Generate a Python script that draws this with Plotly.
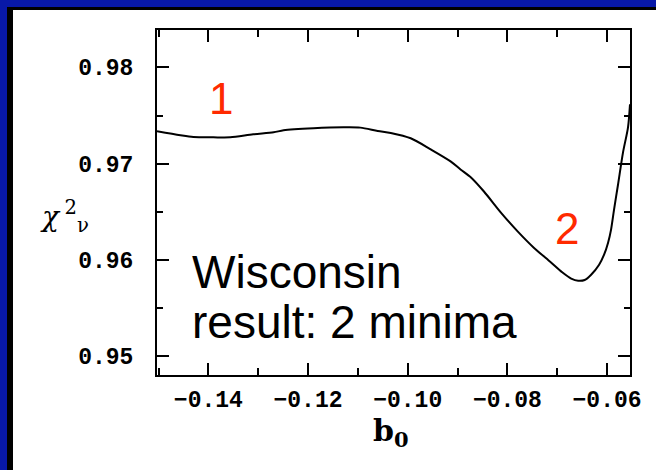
import plotly.graph_objects as go

# ---- data ----
b0 = [-0.1503, -0.1456, -0.1430, -0.1390, -0.1356, -0.1310, -0.1269, -0.1249,
      -0.1189, -0.1129, -0.1095, -0.1060, -0.1034, -0.0994, -0.0954, -0.0914,
      -0.0894, -0.0873, -0.0847, -0.0813, -0.0779, -0.0747, -0.0713, -0.0690,
      -0.0672, -0.0658, -0.0645, -0.0632, -0.0616, -0.0606, -0.0598, -0.0592,
      -0.0586, -0.0578, -0.0568, -0.0558, -0.0554]
chi2 = [0.97336, 0.97294, 0.97276, 0.97273, 0.97273, 0.97304, 0.97325, 0.97346,
        0.97367, 0.97377, 0.97374, 0.97339, 0.97318, 0.97263, 0.97148, 0.97023,
        0.96939, 0.96856, 0.96710, 0.96491, 0.96293, 0.96126, 0.95975, 0.95870,
        0.95805, 0.95782, 0.95790, 0.95845, 0.95949, 0.96053, 0.96178, 0.96314,
        0.96522, 0.96783, 0.97117, 0.97377, 0.97617]
x_ticks = [-0.14, -0.12, -0.10, -0.08, -0.06]
x_ticklabels = ["\u22120.14", "\u22120.12", "\u22120.10", "\u22120.08", "\u22120.06"]
y_ticks = [0.95, 0.96, 0.97, 0.98]
y_ticklabels = ["0.95", "0.96", "0.97", "0.98"]

W, H = 656, 470
ML, MR, MT, MB = 157, 26, 30, 95
PW, PH = W - ML - MR, H - MT - MB


def px(x):
    return (x - ML) / PW


def py(y):
    return (H - MB - y) / PH


BLUE = "#0818A8"
RED = "#FF2A00"

fig = go.Figure()
fig.add_trace(go.Scatter(x=b0, y=chi2, mode="lines", line=dict(color="black", width=2),
                         line_shape="spline", line_smoothing=0.8,
                         hoverinfo="skip", showlegend=False))

tickfont = dict(family="Liberation Mono", size=23, color="black", weight="bold")
axis_common = dict(showline=True, linecolor="black", linewidth=2, mirror="ticks",
                   ticks="inside", tickcolor="black", tickwidth=2, showgrid=False,
                   zeroline=False, tickfont=tickfont)

fig.update_xaxes(range=[-0.1503, -0.0554], tickvals=x_ticks, ticktext=x_ticklabels,
                 ticklen=12, ticklabelstandoff=2,
                 minor=dict(dtick=0.01, tick0=-0.14, ticks="inside", ticklen=7,
                            tickcolor="black", tickwidth=1.5),
                 **axis_common)
fig.update_yaxes(range=[0.94802, 0.98389], tickvals=y_ticks, ticktext=y_ticklabels,
                 ticklen=12, ticklabelstandoff=17,
                 minor=dict(dtick=0.005, tick0=0.95, ticks="inside", ticklen=6,
                            tickcolor="black", tickwidth=1.5),
                 **axis_common)

shapes = [
    # black inner edge of slide border
    dict(type="rect", xref="paper", yref="paper", layer="below",
         x0=px(7), x1=px(720), y0=py(7), y1=py(520),
         fillcolor="black", line=dict(width=0)),
    # white slide area
    dict(type="rect", xref="paper", yref="paper", layer="below",
         x0=px(13), x1=px(720), y0=py(10), y1=py(520),
         fillcolor="white", line=dict(width=0)),
]


def note(x, y, text, font, xa="center", ya="middle"):
    return dict(x=px(x), y=py(y), xref="paper", yref="paper", text=text,
                showarrow=False, xanchor=xa, yanchor=ya, font=font)


annotations = [
    note(221, 99, "1", dict(family="Liberation Sans", size=44, color=RED)),
    note(567, 228, "2", dict(family="Liberation Sans", size=44, color=RED)),
    note(190, 272, "Wisconsin", dict(family="Liberation Sans", size=46, color="black"), xa="left"),
    note(190, 322, "result: 2 minima", dict(family="Liberation Sans", size=46, color="black"), xa="left"),
    note(391, 411, "b<sub>0</sub>",
         dict(family="DejaVu Serif", size=30, color="black", weight="bold"), ya="top"),
    note(64, 216, "<i>\u03c7</i>\u2009<sup>2</sup><sub>\u03bd</sub>",
         dict(family="DejaVu Serif", size=28, color="black")),
]

fig.update_layout(width=W, height=H, margin=dict(l=ML, r=MR, t=MT, b=MB),
                  paper_bgcolor=BLUE, plot_bgcolor="white",
                  shapes=shapes, annotations=annotations, showlegend=False)

fig.write_html("out.html", post_script="document.body.style.margin='0';",
               config={"displayModeBar": False})
